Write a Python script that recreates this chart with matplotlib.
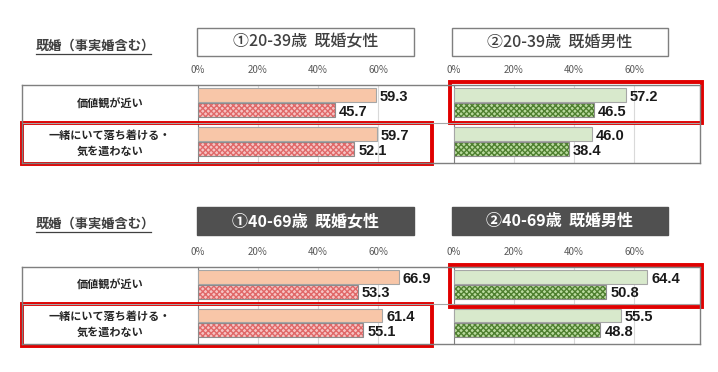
import matplotlib
matplotlib.use('Agg')
import matplotlib.pyplot as plt
from matplotlib.patches import Rectangle

plt.rcParams['font.family'] = ['Noto Sans CJK JP', 'DejaVu Sans']
plt.rcParams['hatch.linewidth'] = 1.0

# ─────────────────────────────────────────────
# Datos
# ─────────────────────────────────────────────
heading = '既婚（事実婚含む）'
categories = ['価値観が近い', '一緒にいて落ち着ける・\n気を遣わない']
titles_young = ['①20-39歳  既婚女性', '②20-39歳  既婚男性']
titles_older = ['①40-69歳  既婚女性', '②40-69歳  既婚男性']
ticks = [0, 20, 40, 60]
tick_labels = ['0%', '20%', '40%', '60%']

young_women_a = [59.3, 59.7]
young_women_b = [45.7, 52.1]
young_men_a = [57.2, 46.0]
young_men_b = [46.5, 38.4]
older_women_a = [66.9, 61.4]
older_women_b = [53.3, 55.1]
older_men_a = [64.4, 55.5]
older_men_b = [50.8, 48.8]

W, H = 718, 372
GRAY_TXT = '#404040'
RED = '#E00000'

women_style = dict(solid='#F8C6A8', hatch_face='#F6C4C4', hatch_col='#E06868')
men_style = dict(solid='#D8E9CC', hatch_face='#B9DA9E', hatch_col='#4E7F2F')


def px(x0, y0, x1, y1):
    """Rectángulo en píxeles -> coordenadas de figura."""
    return [x0 / W, 1 - y1 / H, (x1 - x0) / W, (y1 - y0) / H]


fig = plt.figure(figsize=(W / 100, H / 100), dpi=100)


def draw_panel(rect, xmax, vals_a, vals_b, style):
    ax = fig.add_axes(rect)
    ypos = range(len(categories))
    ya = [i + 0.26 for i in ypos]
    yb = [i + 0.64 for i in ypos]
    ax.barh(ya, vals_a, height=0.36, color=style['solid'],
            edgecolor='#A6A6A6', linewidth=0.8, zorder=3)
    ax.barh(yb, vals_b, height=0.36, color=style['hatch_face'],
            edgecolor=style['hatch_col'], hatch='xxxxxx', linewidth=0.0, zorder=3)
    ax.barh(yb, vals_b, height=0.36, color='none',
            edgecolor='#8C8C8C', linewidth=0.8, zorder=4)
    for y, v in zip(ya, vals_a):
        ax.text(v + 1.3, y + 0.04, f'{v:.1f}', va='center', ha='left',
                fontsize=10.5, fontweight='bold', color='#1A1A1A',
                family=['Liberation Sans', 'DejaVu Sans'])
    for y, v in zip(yb, vals_b):
        ax.text(v + 1.3, y + 0.04, f'{v:.1f}', va='center', ha='left',
                fontsize=10.5, fontweight='bold', color='#1A1A1A',
                family=['Liberation Sans', 'DejaVu Sans'])
    ax.set_xlim(0, xmax)
    ax.set_ylim(len(categories), 0)
    ax.xaxis.tick_top()
    ax.set_xticks(ticks)
    ax.set_xticklabels(tick_labels)
    ax.tick_params(axis='x', length=0, pad=7, labelsize=7, labelcolor='#595959')
    ax.set_yticks([])
    ax.grid(axis='x', color='#D9D9D9', linewidth=0.8, zorder=0)
    for s in ['top', 'right', 'bottom']:
        ax.spines[s].set_visible(False)
    ax.spines['left'].set_color('#7F7F7F')
    ax.patch.set_alpha(0)
    return ax


sections = [
    dict(top=85, mid=123, bot=163, box=(28, 56), head_y=46, titles=titles_young,
         dark=False, data=[(young_women_a, young_women_b), (young_men_a, young_men_b)],
         red_left=(22, 123, 432, 164), red_right=(450, 82, 702, 123)),
    dict(top=267, mid=304, bot=344, box=(207, 235), head_y=224, titles=titles_older,
         dark=True, data=[(older_women_a, older_women_b), (older_men_a, older_men_b)],
         red_left=(22, 304, 432, 346), red_right=(450, 265, 702, 307)),
]

for sec in sections:
    (wa, wb), (ma, mb) = sec['data']
    draw_panel(px(198, sec['top'], 438, sec['bot']), 80, wa, wb, women_style)
    draw_panel(px(454, sec['top'], 700, sec['bot']), 82, ma, mb, men_style)

# Capa superior para tabla, cajas y textos
ov = fig.add_axes([0, 0, 1, 1])
ov.set_xlim(0, W)
ov.set_ylim(H, 0)
ov.axis('off')
ov.patch.set_alpha(0)

for sec in sections:
    top, mid, bot = sec['top'], sec['mid'], sec['bot']
    # encabezado subrayado
    ov.text(36, sec['head_y'], heading, fontsize=9.5, color=GRAY_TXT,
            ha='left', va='center', fontweight='bold')
    ov.plot([36, 151], [sec['head_y'] + 8, sec['head_y'] + 8],
            color=GRAY_TXT, lw=0.9)
    # cajas de título
    b0, b1 = sec['box']
    for (x0, x1), t in zip([(197, 414), (452, 668)], sec['titles']):
        if sec['dark']:
            ov.add_patch(Rectangle((x0, b0), x1 - x0, b1 - b0,
                                   facecolor='#505050', edgecolor='#505050'))
            ov.text((x0 + x1) / 2, (b0 + b1) / 2, t, color='white',
                    fontsize=11.5, fontweight='bold', ha='center', va='center')
        else:
            ov.add_patch(Rectangle((x0, b0), x1 - x0, b1 - b0,
                                   facecolor='white', edgecolor='#7F7F7F', lw=1))
            ov.text((x0 + x1) / 2, (b0 + b1) / 2, t, color=GRAY_TXT,
                    fontsize=11.5, fontweight='medium', ha='center', va='center')
    # líneas de tabla
    ov.plot([22, 700], [top, top], color='#7F7F7F', lw=1)
    ov.plot([22, 700], [bot, bot], color='#7F7F7F', lw=1)
    ov.plot([22, 700], [mid, mid], color='#A6A6A6', lw=0.8)
    ov.plot([22, 22], [top, bot], color='#7F7F7F', lw=1)
    ov.plot([700, 700], [top, bot], color='#7F7F7F', lw=1)
    # categorías
    for yc, cat in zip([(top + mid) / 2, (mid + bot) / 2], categories):
        ov.text(110, yc, cat, fontsize=8, color='#262626', ha='center',
                va='center', linespacing=1.3, fontweight='bold')
    # recuadros rojos
    for (x0, y0, x1, y1) in [sec['red_left'], sec['red_right']]:
        ov.add_patch(Rectangle((x0, y0), x1 - x0, y1 - y0, facecolor='none',
                               edgecolor=RED, lw=2.8))

fig.savefig('out.png', dpi=100)
